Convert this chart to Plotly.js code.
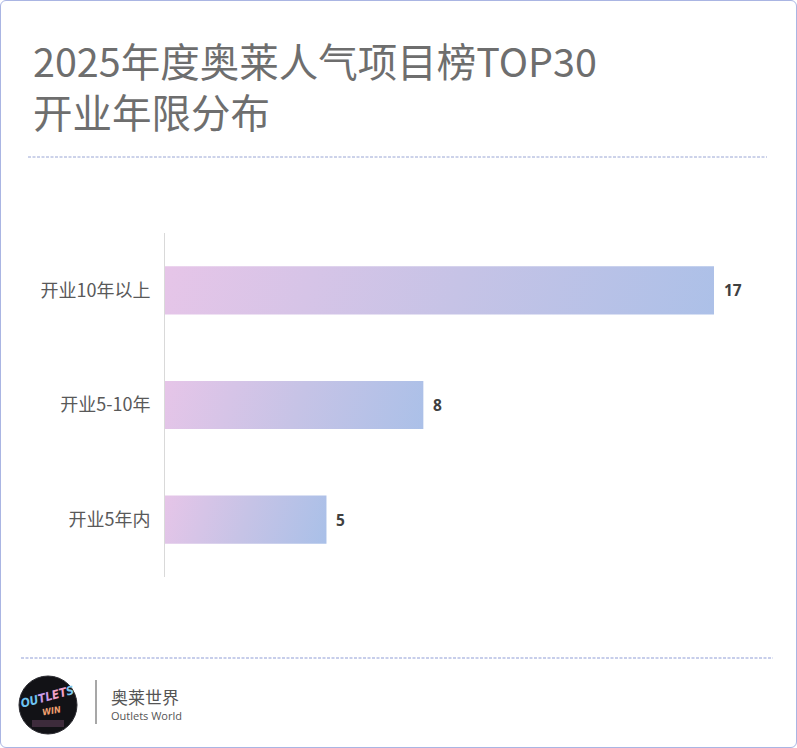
<!DOCTYPE html>
<html><head><meta charset="utf-8">
<script src="https://cdn.plot.ly/plotly-3.0.1.min.js"></script>
<style>
html,body{margin:0;padding:0;background:#fff;}
#card{position:relative;width:797px;height:748px;box-sizing:border-box;border:1px solid #aab5e3;border-radius:6px;overflow:hidden;}
#chart{position:absolute;left:-1px;top:-1px;width:797px;height:748px;}
</style></head>
<body>
<div id="card"><div id="chart"></div></div>
<script>
const categories = ['开业5年内', '开业5-10年', '开业10年以上'];
const counts = [5, 8, 17];
const titleLines = ['2025年度奥莱人气项目榜TOP30', '开业年限分布'];
const brandName = '奥莱世界';
const brandSub = 'Outlets World';

const L = 165, T = 233, PW = 600, PH = 344;
const px = x => (x - L) / PW;
const py = y => (T + PH - y) / PH;

const data = [{
  type: 'bar', orientation: 'h',
  y: categories, x: counts,
  marker: {color: '#c8c6e6'},
  hoverinfo: 'none'
}];

const valueLabels = counts.map((v, i) => ({
  xref: 'x', yref: 'y', x: v, y: categories[i], xanchor: 'left', yanchor: 'middle', xshift: 8,
  showarrow: false, text: '<b>' + v + '</b>',
  font: {family: 'Open Sans', size: 15.5, color: '#404040'}
}));

const titleAnn = {
  xref: 'paper', yref: 'paper', x: px(31), y: py(85), xanchor: 'left', yanchor: 'middle', align: 'left',
  showarrow: false, text: titleLines.join('<br>'), font: {family: 'Noto Sans CJK SC', size: 39.5, color: '#6e6e6e'}
};

const layout = {
  width: 797, height: 748,
  margin: {l: L, r: 797 - L - PW, t: T, b: 748 - T - PH, pad: 0},
  paper_bgcolor: 'rgba(0,0,0,0)', plot_bgcolor: 'rgba(0,0,0,0)',
  showlegend: false, bargap: 0.58,
  xaxis: {range: [0, PW / ((714 - 165) / 17)], visible: false, fixedrange: true},
  yaxis: {showline: true, linecolor: '#d9d9d9', linewidth: 1, ticks: '', showgrid: false, zeroline: false,
    ticklabelstandoff: 10,
    tickfont: {family: 'Noto Sans CJK SC', size: 18, color: '#595959'}},
  shapes: [
    {type: 'line', xref: 'paper', yref: 'paper', x0: px(28), x1: px(767), y0: py(157), y1: py(157), line: {color: '#9aa6d4', width: 1, dash: '3px,1.5px'}},
    {type: 'line', xref: 'paper', yref: 'paper', x0: px(21), x1: px(773), y0: py(658), y1: py(658), line: {color: '#8f9dd6', width: 1, dash: '3px,1.5px'}},
    {type: 'line', xref: 'paper', yref: 'paper', x0: px(96), x1: px(96), y0: py(680), y1: py(724), line: {color: '#8a8a8a', width: 1.5}},
    {type: 'circle', xref: 'paper', yref: 'paper', x0: px(19), x1: px(77), y0: py(676), y1: py(734), fillcolor: '#121216', line: {color: '#2a2a30', width: 1}},
    {type: 'rect', xref: 'paper', yref: 'paper', x0: px(32), x1: px(64), y0: py(720), y1: py(727), fillcolor: 'rgba(190,120,170,0.25)', line: {width: 0}}
  ],
  annotations: [titleAnn].concat(valueLabels, [
    {xref: 'paper', yref: 'paper', x: px(109), y: py(696), xanchor: 'left', yanchor: 'middle', showarrow: false, text: brandName,
      font: {family: 'Noto Sans CJK SC', size: 17, color: '#555555'}},
    {xref: 'paper', yref: 'paper', x: px(109), y: py(715), xanchor: 'left', yanchor: 'middle', showarrow: false, text: brandSub,
      font: {family: 'Open Sans', size: 11, color: '#555555'}},
    {xref: 'paper', yref: 'paper', x: px(47), y: py(697), xanchor: 'center', yanchor: 'middle', showarrow: false,
      text: '<b><i><span style="color:#6ec3f0">OU</span><span style="color:#c99be8">TL</span><span style="color:#f2a2c8">ET</span><span style="color:#7fc8f0">S</span></i></b>', textangle: -15,
      font: {family: 'DejaVu Sans Condensed', size: 12, color: '#6cc6ee'}},
    {xref: 'paper', yref: 'paper', x: px(51), y: py(711), xanchor: 'center', yanchor: 'middle', showarrow: false, text: '<b><i>WIN</i></b>', textangle: -10,
      font: {family: 'DejaVu Sans Condensed', size: 9, color: '#f0a070'}}
  ])
};

Plotly.newPlot('chart', data, layout, {staticPlot: true, displayModeBar: false}).then(gd => {
  const svg = gd.querySelector('svg.main-svg');
  const defs = svg.querySelector('defs');
  const ns = 'http://www.w3.org/2000/svg';
  gd.querySelectorAll('.barlayer .point path').forEach((p, i) => {
    const b = p.getBBox();
    const lg = document.createElementNS(ns, 'linearGradient');
    lg.setAttribute('id', 'barGrad' + i);
    lg.setAttribute('gradientUnits', 'userSpaceOnUse');
    lg.setAttribute('x1', b.x); lg.setAttribute('y1', b.y);
    lg.setAttribute('x2', b.x + b.width); lg.setAttribute('y2', b.y + b.width * 0.3);
    [['0', '#e6c5e8'], ['0.5', '#c6c3e6'], ['1', '#a9c0e8']].forEach(([o, c]) => {
      const s = document.createElementNS(ns, 'stop');
      s.setAttribute('offset', o); s.setAttribute('stop-color', c);
      lg.appendChild(s);
    });
    defs.appendChild(lg);
    p.style.fill = 'url(#barGrad' + i + ')';
  });
});
</script>
</body></html>
